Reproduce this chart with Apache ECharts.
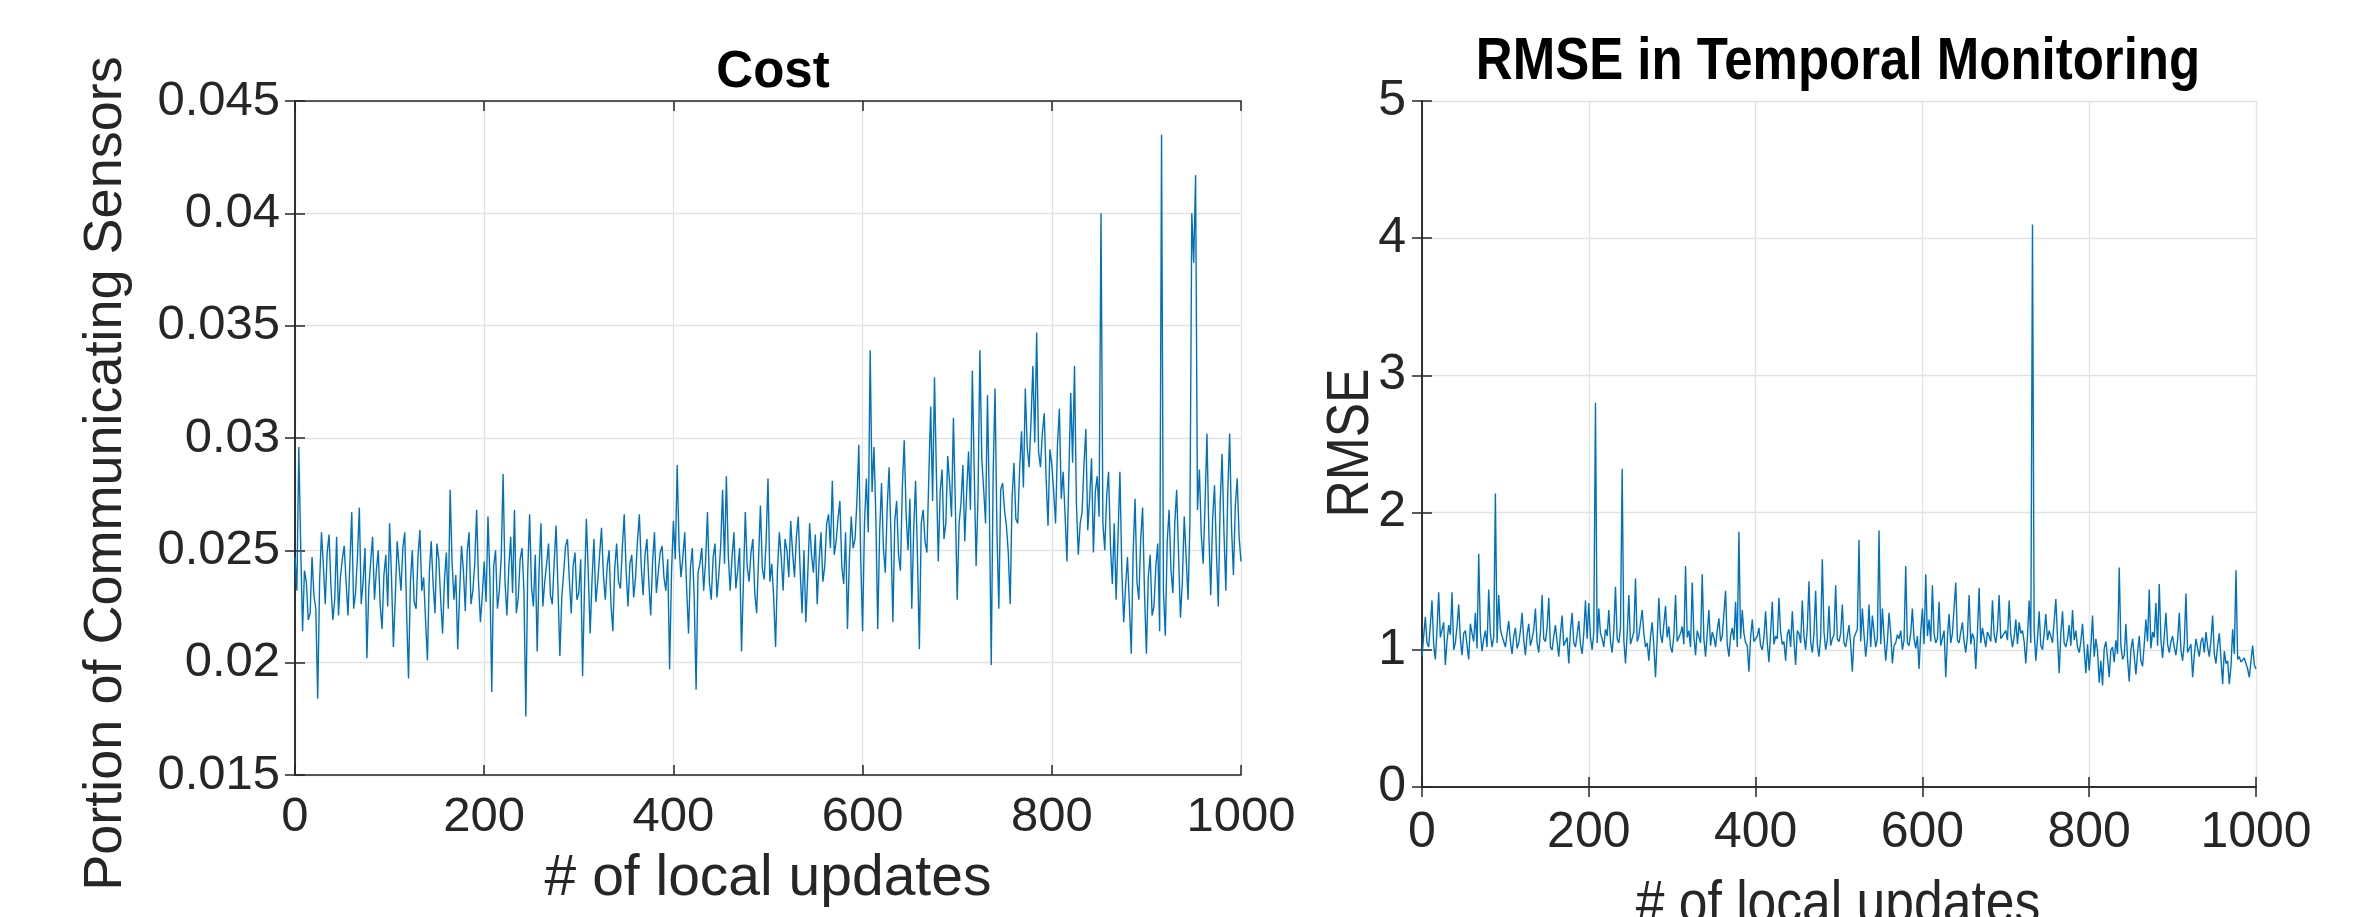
<!DOCTYPE html>
<html>
<head>
<meta charset="utf-8">
<script src="https://cdn.jsdelivr.net/npm/echarts@6/dist/echarts.min.js"></script>
<style>
  html, body { margin: 0; padding: 0; background: #fff; }
  #chartmain { width: 2374px; height: 917px; }
</style>
</head>
<body>
<div id="chartmain"></div>
<script>
// local updates between two stored samples
var xStep = 2;

// Cost: portion of communicating sensors, x = 0, 2, ..., 1000
var costValues = [
  0.0247,0.0232,0.0296,0.0252,0.0214,0.0241,0.0236,0.0219,0.0222,0.0247,
  0.0230,0.0224,0.0184,0.0236,0.0258,0.0243,0.0226,0.0249,0.0257,0.0234,
  0.0219,0.0228,0.0256,0.0221,0.0238,0.0246,0.0252,0.0236,0.0221,0.0244,
  0.0267,0.0224,0.0231,0.0247,0.0269,0.0226,0.0236,0.0251,0.0202,0.0233,
  0.0245,0.0256,0.0228,0.0241,0.0250,0.0226,0.0215,0.0239,0.0248,0.0225,
  0.0262,0.0238,0.0207,0.0229,0.0254,0.0243,0.0232,0.0251,0.0258,0.0222,
  0.0193,0.0236,0.0250,0.0227,0.0224,0.0247,0.0259,0.0232,0.0238,0.0219,
  0.0201,0.0240,0.0254,0.0235,0.0222,0.0253,0.0246,0.0228,0.0213,0.0237,
  0.0249,0.0224,0.0277,0.0245,0.0228,0.0239,0.0206,0.0231,0.0252,0.0241,
  0.0223,0.0249,0.0258,0.0226,0.0232,0.0244,0.0268,0.0236,0.0218,0.0230,
  0.0245,0.0227,0.0265,0.0238,0.0187,0.0243,0.0250,0.0224,0.0232,0.0247,
  0.0284,0.0236,0.0221,0.0242,0.0256,0.0231,0.0268,0.0222,0.0229,0.0246,
  0.0251,0.0232,0.0176,0.0240,0.0266,0.0234,0.0225,0.0248,0.0205,0.0241,
  0.0262,0.0225,0.0236,0.0244,0.0253,0.0230,0.0226,0.0245,0.0261,0.0233,
  0.0203,0.0229,0.0240,0.0252,0.0255,0.0237,0.0222,0.0243,0.0249,0.0228,
  0.0231,0.0246,0.0194,0.0233,0.0264,0.0240,0.0213,0.0237,0.0255,0.0227,
  0.0236,0.0248,0.0260,0.0239,0.0228,0.0243,0.0250,0.0226,0.0214,0.0242,
  0.0253,0.0236,0.0233,0.0251,0.0266,0.0241,0.0225,0.0244,0.0248,0.0229,
  0.0238,0.0254,0.0266,0.0243,0.0230,0.0248,0.0255,0.0236,0.0221,0.0245,
  0.0258,0.0231,0.0240,0.0249,0.0252,0.0238,0.0232,0.0246,0.0197,0.0240,
  0.0263,0.0246,0.0288,0.0252,0.0238,0.0247,0.0258,0.0233,0.0213,0.0242,
  0.0251,0.0229,0.0188,0.0240,0.0244,0.0251,0.0232,0.0245,0.0267,0.0236,
  0.0228,0.0247,0.0253,0.0229,0.0239,0.0252,0.0277,0.0244,0.0283,0.0248,
  0.0232,0.0247,0.0258,0.0233,0.0241,0.0251,0.0205,0.0236,0.0267,0.0243,
  0.0236,0.0249,0.0255,0.0231,0.0222,0.0246,0.0270,0.0242,0.0237,0.0254,
  0.0282,0.0236,0.0244,0.0229,0.0207,0.0241,0.0258,0.0247,0.0232,0.0255,
  0.0250,0.0238,0.0263,0.0249,0.0238,0.0256,0.0265,0.0241,0.0222,0.0250,
  0.0218,0.0239,0.0262,0.0248,0.0240,0.0257,0.0226,0.0245,0.0258,0.0236,
  0.0243,0.0262,0.0266,0.0251,0.0281,0.0248,0.0254,0.0264,0.0272,0.0243,
  0.0235,0.0258,0.0215,0.0246,0.0265,0.0251,0.0255,0.0272,0.0297,0.0246,
  0.0214,0.0262,0.0282,0.0258,0.0339,0.0276,0.0296,0.0265,0.0215,0.0258,
  0.0280,0.0251,0.0240,0.0269,0.0287,0.0256,0.0218,0.0263,0.0272,0.0248,
  0.0241,0.0278,0.0299,0.0266,0.0250,0.0273,0.0224,0.0259,0.0281,0.0247,
  0.0206,0.0262,0.0268,0.0254,0.0249,0.0283,0.0314,0.0272,0.0327,0.0284,
  0.0245,0.0276,0.0286,0.0255,0.0262,0.0292,0.0280,0.0265,0.0309,0.0271,
  0.0228,0.0262,0.0271,0.0288,0.0254,0.0276,0.0294,0.0268,0.0330,0.0285,
  0.0243,0.0274,0.0339,0.0291,0.0277,0.0262,0.0319,0.0270,0.0199,0.0284,
  0.0322,0.0259,0.0224,0.0277,0.0280,0.0268,0.0261,0.0249,0.0226,0.0273,
  0.0289,0.0264,0.0262,0.0286,0.0303,0.0278,0.0322,0.0296,0.0287,0.0307,
  0.0332,0.0298,0.0347,0.0294,0.0287,0.0302,0.0311,0.0282,0.0261,0.0295,
  0.0288,0.0276,0.0262,0.0297,0.0313,0.0273,0.0285,0.0266,0.0245,0.0283,
  0.0320,0.0289,0.0332,0.0271,0.0248,0.0262,0.0267,0.0288,0.0304,0.0259,
  0.0273,0.0291,0.0249,0.0276,0.0283,0.0265,0.0400,0.0262,0.0250,0.0274,
  0.0285,0.0252,0.0235,0.0262,0.0228,0.0256,0.0285,0.0241,0.0218,0.0234,
  0.0247,0.0226,0.0204,0.0249,0.0273,0.0236,0.0228,0.0255,0.0269,0.0231,
  0.0204,0.0238,0.0248,0.0221,0.0225,0.0243,0.0253,0.0214,0.0435,0.0232,
  0.0212,0.0254,0.0268,0.0241,0.0231,0.0262,0.0277,0.0248,0.0220,0.0236,
  0.0265,0.0247,0.0228,0.0262,0.0400,0.0378,0.0417,0.0268,0.0286,0.0257,
  0.0244,0.0271,0.0302,0.0258,0.0230,0.0264,0.0279,0.0249,0.0225,0.0271,
  0.0293,0.0258,0.0232,0.0276,0.0302,0.0260,0.0239,0.0270,0.0282,0.0256,
  0.0245
];

// RMSE in temporal monitoring, x = 0, 2, ..., 1000
var rmseValues = [
  0.95,1.10,1.24,1.05,1.02,1.18,1.36,1.04,0.93,1.15,
  1.42,1.09,1.08,1.20,0.89,1.06,1.18,1.11,1.42,1.00,
  1.05,1.17,1.33,1.08,0.96,1.12,1.14,1.03,0.93,1.19,
  1.12,1.06,1.27,1.01,1.70,1.13,0.99,1.08,1.14,1.02,
  1.44,1.12,1.02,1.09,2.14,1.05,1.40,1.15,1.10,1.06,
  1.02,1.12,1.21,1.06,0.97,1.10,1.16,1.01,1.05,1.14,
  1.27,1.07,0.96,1.11,1.19,1.03,1.08,1.15,1.30,1.05,
  0.98,1.13,1.40,1.08,1.06,1.16,1.38,1.02,1.00,1.10,
  1.18,1.06,0.95,1.12,1.25,1.03,1.04,1.09,0.90,1.14,
  1.27,1.05,1.02,1.11,1.21,1.04,0.97,1.12,1.36,1.08,
  1.34,1.09,1.00,1.13,2.80,1.05,1.30,1.12,1.08,1.02,
  1.15,1.10,1.29,1.06,0.98,1.14,1.46,1.08,1.05,1.16,
  2.32,1.07,0.90,1.11,1.40,1.04,1.03,1.13,1.52,1.06,
  1.10,1.09,1.29,1.12,1.02,1.05,0.92,1.10,1.20,1.03,
  0.80,1.08,1.38,1.11,1.05,1.04,1.32,1.09,1.17,1.02,
  0.98,1.11,1.40,1.06,1.07,1.12,1.17,1.04,1.61,1.09,
  1.14,1.02,1.49,1.10,0.96,1.14,1.15,1.05,1.55,1.08,
  0.95,1.12,1.29,1.03,1.13,1.09,1.02,1.14,1.23,1.06,
  1.10,1.11,1.43,1.04,0.95,1.10,1.16,1.07,1.35,1.02,
  1.86,1.08,1.29,1.12,1.05,1.03,0.84,1.09,1.22,1.06,
  1.05,1.10,1.16,1.03,1.00,1.09,1.28,1.05,0.91,1.12,
  1.35,1.04,1.10,1.08,1.38,1.13,1.04,1.06,0.92,1.11,
  1.15,1.02,1.28,1.07,0.89,1.14,1.12,1.05,1.36,1.10,
  1.00,1.16,1.50,1.06,0.98,1.12,1.43,1.04,0.95,1.09,
  1.66,1.13,1.00,1.07,1.32,1.03,1.08,1.11,1.47,1.08,
  1.06,1.12,1.33,1.05,1.02,1.10,1.18,1.04,0.84,1.09,
  1.10,1.15,1.80,1.06,1.30,1.11,0.95,1.07,1.33,1.02,
  1.25,1.13,1.02,1.08,1.87,1.04,1.30,1.10,0.92,1.06,
  1.27,1.12,0.90,1.03,1.05,1.11,1.08,1.14,1.00,1.07,
  1.61,1.05,1.03,1.12,1.30,1.08,1.01,1.10,0.86,1.13,
  1.30,1.04,1.55,1.10,1.22,1.06,1.47,1.12,1.05,1.08,
  1.35,1.03,1.02,1.14,0.80,1.09,1.26,1.05,1.12,1.11,
  1.49,1.07,1.05,1.13,1.20,1.06,0.98,1.10,1.40,1.04,
  1.12,1.08,0.86,1.12,1.45,1.05,1.16,1.09,1.02,1.13,
  1.10,1.06,1.36,1.11,1.05,1.15,1.40,1.08,1.07,1.12,
  1.14,1.07,1.36,1.11,1.02,1.09,1.22,1.04,1.20,1.12,
  1.14,1.06,0.90,1.10,1.36,1.05,4.10,1.14,0.92,1.08,
  1.28,1.03,1.00,1.12,1.26,1.07,1.14,1.10,1.05,1.04,
  1.37,1.09,0.83,1.12,1.28,1.05,1.02,1.08,1.18,1.03,
  1.29,1.07,1.14,1.02,0.98,1.06,1.19,1.00,0.83,1.04,
  0.85,1.02,1.25,0.95,1.08,0.99,0.76,0.92,0.74,1.01,
  1.06,0.94,0.80,1.00,1.02,0.91,1.07,0.97,1.60,1.03,
  0.93,0.96,1.19,0.93,0.77,1.00,1.08,0.95,0.82,0.98,
  1.10,0.92,0.88,1.04,1.22,1.06,1.44,1.01,1.13,1.09,
  1.34,1.03,1.48,1.07,0.94,1.10,1.27,1.04,0.98,1.06,
  1.10,1.02,0.96,1.07,1.27,1.00,0.92,1.05,1.41,0.98,
  0.99,1.04,0.80,0.96,1.08,1.01,0.95,1.06,1.09,0.98,
  1.13,1.02,0.95,1.07,1.25,0.97,0.90,1.03,1.12,0.94,
  0.75,0.99,0.90,0.92,0.75,0.88,1.15,0.97,1.58,0.93,
  0.95,0.91,0.92,0.94,0.90,0.86,0.80,0.92,1.03,0.89,
  0.86
];

var xTickStep = 200;
var costTicks = { min: 0.015, max: 0.045, step: 0.005 };
var rmseTicks = { min: 0, max: 5, step: 1 };

function toPairs(vals) {
  return vals.map(function (v, i) { return [i * xStep, v]; });
}

var darkText = '#262626';
var sansFont = "'Liberation Sans', Arial, Helvetica, sans-serif";
var lineBlue = '#0072BD';
var gridGrey = '#e2e2e2';

function mainX(gridIndex, size, margin, nameOpts) {
  var ax = {
    gridIndex: gridIndex, type: 'value', min: 0, max: 1000, interval: xTickStep,
    axisLine: { lineStyle: { color: darkText, width: 1.5 } },
    axisTick: { inside: true, length: 10, lineStyle: { color: darkText, width: 1.5 } },
    axisLabel: { fontFamily: sansFont, fontSize: size, color: darkText, margin: margin,
      formatter: function (v) { return String(v); } },
    splitLine: { show: true, lineStyle: { color: gridGrey, width: 1.3 } }
  };
  if (nameOpts) {
    ax.name = '# of local updates';
    ax.nameLocation = 'middle';
    ax.nameGap = nameOpts.gap;
    ax.nameTextStyle = { fontFamily: sansFont, fontSize: nameOpts.size, color: darkText };
  }
  return ax;
}
function boxX(gridIndex) {
  return {
    gridIndex: gridIndex, type: 'value', position: 'top', min: 0, max: 1000, interval: xTickStep,
    axisLine: { lineStyle: { color: darkText, width: 1.5 } },
    axisTick: { inside: true, length: 10, lineStyle: { color: darkText, width: 1.5 } },
    axisLabel: { show: false }, splitLine: { show: false }
  };
}
function boxY(gridIndex, t) {
  return {
    gridIndex: gridIndex, type: 'value', position: 'right', min: t.min, max: t.max, interval: t.step,
    axisLine: { show: true, lineStyle: { color: darkText, width: 1.5 } },
    axisTick: { show: true, inside: true, length: 10, lineStyle: { color: darkText, width: 1.5 } },
    axisLabel: { show: false }, splitLine: { show: false }
  };
}
// the right panel's texts are set in a narrow face in the original
function narrowText(text, x, y, size, opts) {
  return {
    type: 'text', x: x, y: y, scaleX: opts.scaleX || 0.86, rotation: opts.rotation || 0,
    style: {
      text: text, fill: opts.color || darkText,
      font: (opts.bold ? 'bold ' : '') + size + 'px ' + sansFont,
      align: 'center', textAlign: 'center',
      verticalAlign: opts.va || 'middle', textVerticalAlign: opts.va || 'middle'
    }
  };
}

var option = {
  animation: false,
  backgroundColor: '#ffffff',
  title: [
    { text: 'Cost', left: 768, top: 42, textAlign: 'center',
      textStyle: { fontFamily: sansFont, fontWeight: 'bold', fontSize: 51, color: '#000' } }
  ],
  graphic: [
    narrowText('RMSE in Temporal Monitoring', 1838, 62, 60, { bold: true, color: '#000', scaleX: 0.85 }),
    narrowText('# of local updates', 1838, 875, 60, { va: 'top' }),
    narrowText('RMSE', 1351, 443, 60, { rotation: Math.PI / 2 })
  ],
  grid: [
    { left: 295, top: 101, width: 946, height: 674, outerBoundsMode: 'none' },
    { left: 1422, top: 101, width: 834, height: 686, outerBoundsMode: 'none' }
  ],
  xAxis: [
    mainX(0, 49, 18, { gap: 76, size: 57 }),
    boxX(0),
    mainX(1, 50, 21, null),
    boxX(1)
  ],
  yAxis: [
    {
      gridIndex: 0, type: 'value', min: costTicks.min, max: costTicks.max, interval: costTicks.step,
      name: 'Portion of Communicating Sensors', nameLocation: 'middle', nameGap: 162,
      nameTextStyle: { fontFamily: sansFont, fontSize: 54, color: darkText, padding: [0, 71, 0, 0] },
      axisLine: { show: true, lineStyle: { color: darkText, width: 1.5 } },
      axisTick: { show: true, inside: true, length: 10, lineStyle: { color: darkText, width: 1.5 } },
      axisLabel: { fontFamily: sansFont, fontSize: 49, color: darkText, margin: 15,
        formatter: function (v) { return String(parseFloat(v.toFixed(3))); } },
      splitLine: { show: true, lineStyle: { color: gridGrey, width: 1.3 } }
    },
    boxY(0, costTicks),
    {
      gridIndex: 1, type: 'value', min: rmseTicks.min, max: rmseTicks.max, interval: rmseTicks.step,
      axisLine: { show: true, lineStyle: { color: darkText, width: 1.5 } },
      axisTick: { show: true, inside: true, length: 10, lineStyle: { color: darkText, width: 1.5 } },
      axisLabel: { fontFamily: sansFont, fontSize: 50, color: darkText, margin: 16 },
      splitLine: { show: true, lineStyle: { color: gridGrey, width: 1.3 } }
    },
    boxY(1, rmseTicks)
  ],
  series: [
    {
      name: 'Cost', type: 'line', xAxisIndex: 0, yAxisIndex: 0,
      data: toPairs(costValues), showSymbol: false, symbol: 'none',
      lineStyle: { color: lineBlue, width: 1.4 }
    },
    {
      name: 'RMSE', type: 'line', xAxisIndex: 2, yAxisIndex: 2,
      data: toPairs(rmseValues), showSymbol: false, symbol: 'none',
      lineStyle: { color: lineBlue, width: 1.4 }
    }
  ]
};

var myChart = echarts.init(document.getElementById('chartmain'));
myChart.setOption(option);
</script>
</body>
</html>
